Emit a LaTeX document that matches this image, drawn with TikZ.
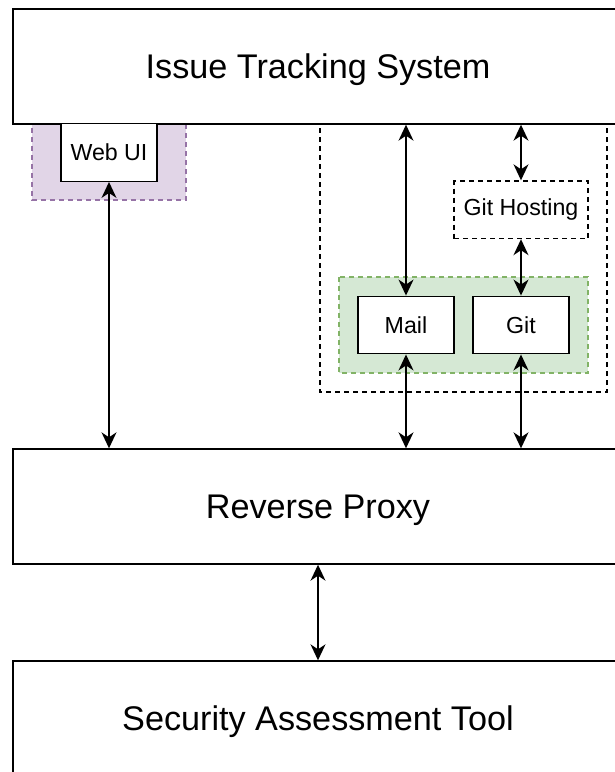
\documentclass[tikz,border=0pt]{standalone}
\usepackage{fontspec}
\setmainfont{Liberation Sans}
\usetikzlibrary{arrows.meta}

\definecolor{purpleback}{HTML}{E1D5E7}
\definecolor{purpleline}{HTML}{9673A6}
\definecolor{greenback}{HTML}{D5E8D4}
\definecolor{greenline}{HTML}{82B366}

\tikzset{
  block/.style={draw,line width=1.4pt,fill=white,inner sep=0pt,text depth=0pt,
    minimum width=610pt,minimum height=115pt,font=\fontsize{34.2}{40}\selectfont},
  unit/.style={draw,line width=1.4pt,fill=white,inner sep=0pt,
    minimum width=96pt,minimum height=57.5pt,font=\fontsize{23.2}{27}\selectfont},
  zone/.style={line width=1.4pt,dash pattern=on 5pt off 4pt},
  link/.style={<->,line width=1.4pt},
}

\begin{document}
\begin{tikzpicture}[>={Stealth[length=16pt,width=15pt,inset=5pt]},x=1pt,y=-1pt]
  \clip (0,0) rectangle (615,772);
  % shaded zones sit behind the boxes
  \draw[zone,fill=purpleback,draw=purpleline] (32,110) rectangle (186,200);
  \draw[zone] (320,110) rectangle (607,392);
  \draw[zone,fill=greenback,draw=greenline] (339,277) rectangle (588,373);

  % main blocks
  \node[block] (its) at (318,66.5) {Issue Tracking System};
  \node[block] (rp) at (318,506.5) {Reverse Proxy};
  \node[block] (sat) at (318,718.5) {Security Assessment Tool};

  % services
  \node[unit] (webui) at (109,152.5) {Web UI};
  \node[unit,dash pattern=on 5pt off 4pt,minimum width=134pt] (githost) at (521,209.75) {Git Hosting};
  \node[unit] (mail) at (406,325) {Mail};
  \node[unit] (git) at (521,325) {Git};

  % connections
  \draw[link] (webui.south) -- (webui.south |- rp.north);
  \draw[link] (mail.north |- its.south) -- (mail.north);
  \draw[link] (githost.north |- its.south) -- (githost.north);
  \draw[link] (githost.south) -- (git.north);
  \draw[link] (mail.south) -- (mail.south |- rp.north);
  \draw[link] (git.south) -- (git.south |- rp.north);
  \draw[link] (rp.south) -- (sat.north);
\end{tikzpicture}
\end{document}
